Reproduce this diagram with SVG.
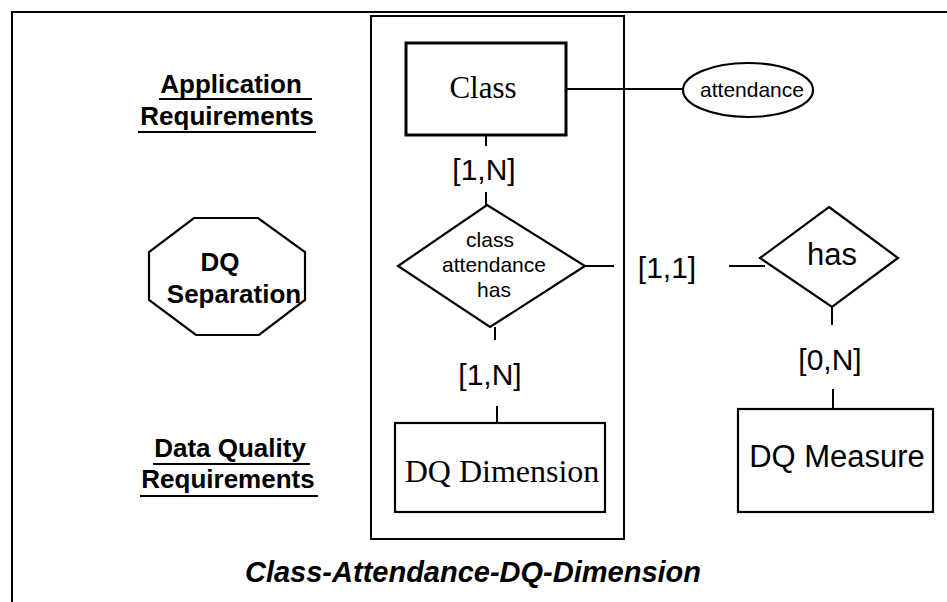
<svg xmlns="http://www.w3.org/2000/svg" width="947" height="602" viewBox="0 0 947 602">
<style>
.ln{stroke:#000;stroke-width:2;fill:none}
.sh{stroke:#000;stroke-width:2.2;fill:#fff}
.sans{font-family:"Liberation Sans",Arial,sans-serif;fill:#000}
.serif{font-family:"Liberation Serif","Times New Roman",serif;fill:#000}
.lbl{font-family:"Liberation Sans",Arial,sans-serif;font-weight:bold;font-size:26px;fill:#000}
.card{font-family:"Liberation Sans",Arial,sans-serif;font-size:30px;fill:#000}
</style>
<rect x="0" y="0" width="947" height="602" fill="#fff"/>
<rect id="frame" x="12" y="12" width="960" height="610" class="ln"/>
<rect id="group-box" x="371" y="16" width="253" height="523" class="ln"/>

<g id="connectors">
<line x1="566" y1="89" x2="683" y2="89" class="ln"/>
<line x1="486" y1="135" x2="486" y2="146" class="ln"/>
<line x1="486" y1="192" x2="486" y2="205" class="ln"/>
<line x1="585" y1="266" x2="614" y2="266" class="ln"/>
<line x1="729" y1="266" x2="765" y2="266" class="ln"/>
<line x1="495" y1="327" x2="495" y2="340" class="ln"/>
<line x1="497" y1="406" x2="497" y2="423" class="ln"/>
<line x1="832" y1="307" x2="832" y2="325" class="ln"/>
<line x1="833" y1="389" x2="833" y2="409" class="ln"/>
<text class="card" x="484" y="180" text-anchor="middle">[1,N]</text>
<text class="card" x="667" y="278" text-anchor="middle">[1,1]</text>
<text class="card" x="490" y="385" text-anchor="middle">[1,N]</text>
<text class="card" x="830" y="370" text-anchor="middle">[0,N]</text>
</g>

<g id="label-app">
<text class="lbl" x="231" y="93" text-anchor="middle">Application</text>
<line x1="159" y1="99" x2="312" y2="99" stroke="#000" stroke-width="2"/>
<text class="lbl" x="227" y="125" text-anchor="middle">Requirements</text>
<line x1="138" y1="132" x2="316" y2="132" stroke="#000" stroke-width="2"/>
</g>

<g id="dq-separation">
<polygon points="194,218 258,218 305,252 305,300 259,335 196,335 149,300 149,252" class="sh"/>
<text class="lbl" x="220" y="271" text-anchor="middle">DQ</text>
<text class="lbl" x="234" y="303" text-anchor="middle">Separation</text>
</g>

<g id="label-dq">
<text class="lbl" x="230" y="457" text-anchor="middle">Data Quality</text>
<line x1="153" y1="464" x2="310" y2="464" stroke="#000" stroke-width="2"/>
<text class="lbl" x="228" y="488" text-anchor="middle">Requirements</text>
<line x1="140" y1="496" x2="318" y2="496" stroke="#000" stroke-width="2"/>
</g>

<g id="class">
<rect x="406" y="43" width="160" height="92" fill="#fff" stroke="#000" stroke-width="3"/>
<text class="serif" x="483" y="98" font-size="31" text-anchor="middle">Class</text>
</g>

<g id="attendance">
<ellipse cx="748" cy="90" rx="65" ry="27" class="sh"/>
<text class="sans" x="752" y="97" font-size="21" text-anchor="middle">attendance</text>
</g>

<g id="class-attendance-has">
<polygon points="487,205 585,266 490,327 398,266" class="sh"/>
<text class="sans" x="490" y="247" font-size="21" text-anchor="middle">class</text>
<text class="sans" x="494" y="272" font-size="21" text-anchor="middle">attendance</text>
<text class="sans" x="494" y="297" font-size="21" text-anchor="middle">has</text>
</g>

<g id="has">
<polygon points="829,207 898,258 832,307 760,258" class="sh"/>
<text class="sans" x="832" y="265" font-size="31" text-anchor="middle">has</text>
</g>

<g id="dq-dimension">
<rect x="395" y="423" width="210" height="89" class="sh"/>
<text class="serif" x="502" y="482" font-size="32" text-anchor="middle">DQ Dimension</text>
</g>

<g id="dq-measure">
<rect x="738" y="409" width="195" height="103" class="sh"/>
<text class="sans" x="837" y="467" font-size="31" text-anchor="middle">DQ Measure</text>
</g>

<text id="caption" class="sans" x="473" y="582" font-size="29" font-weight="bold" font-style="italic" text-anchor="middle">Class-Attendance-DQ-Dimension</text>
</svg>
